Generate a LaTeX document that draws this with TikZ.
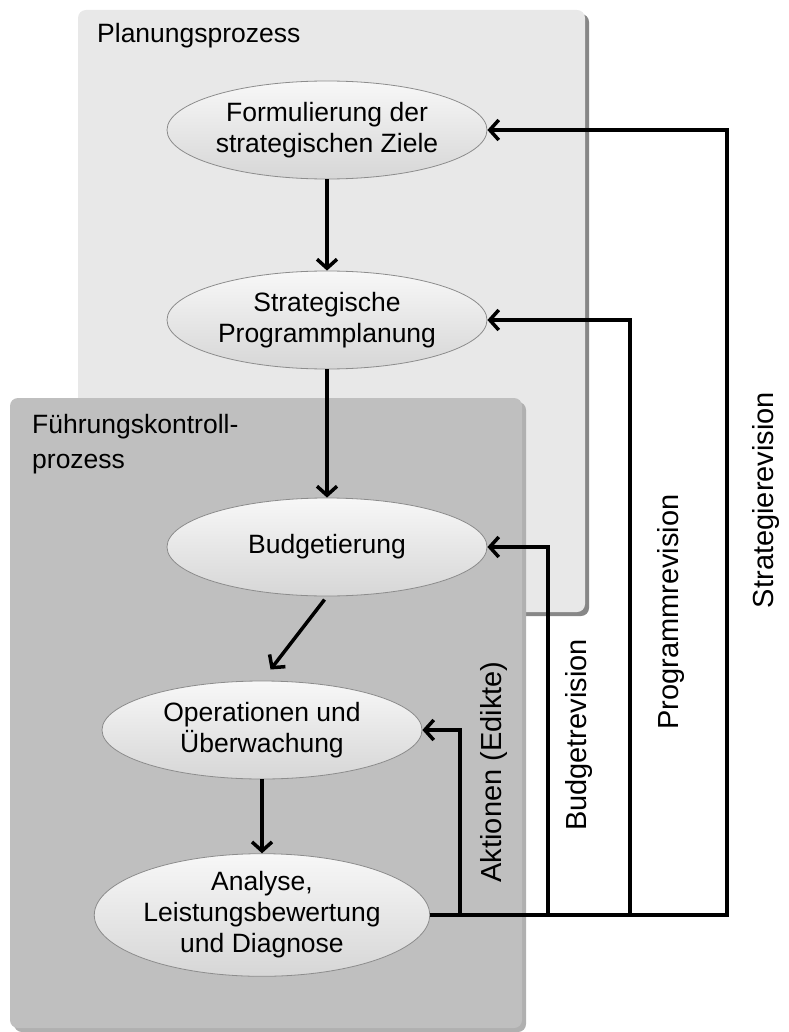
\documentclass[tikz,border=0pt]{standalone}
\usepackage{fontspec}
\setmainfont{Liberation Sans}
\usetikzlibrary{arrows.meta,shapes.geometric}
\begin{document}
\begin{tikzpicture}[x=1pt,y=-1pt,
  txt/.style={font=\fontsize{26.5}{31}\selectfont},
  sidetxt/.style={font=\fontsize{29}{31}\selectfont, inner sep=0pt, rotate=90},
  proc/.style={txt, ellipse, draw=black!45, line width=0.8pt,
    top color=black!3, bottom color=black!16,
    minimum width=320pt, minimum height=98pt, inner sep=0pt, align=center},
  lab/.style={txt, inner sep=0pt},
  flow/.style={line width=3.5pt, line join=miter,
    -{Straight Barb[length=9pt,width=20pt]}}]
\useasboundingbox (0,0) rectangle (788,1032);

% Planning process panel with drop shadow
\fill[black!47, rounded corners=8pt] (82,14) rectangle (589,616);
\fill[black!9, rounded corners=8pt] (78,10) rectangle (585,612);
\node[lab, anchor=base west] (plan) at (97,43) {Planungsprozess};

% Management control panel with drop shadow
\fill[black!31, rounded corners=8pt] (14,402) rectangle (526,1032);
\fill[black!25, rounded corners=8pt] (10,398) rectangle (522,1028);
\node[lab, anchor=base west, align=left, font=\fontsize{26.5}{35}\selectfont]
  (fkp) at (32,468) {Führungskontroll-\\prozess};

% Process steps
\node[proc] (ziele)  at (327,130) {Formulierung der\\strategischen Ziele};
\node[proc] (prog)   at (327,320) {Strategische\\Programmplanung};
\node[proc] (budget) at (327,547) {Budgetierung};
\node[proc] (oper)   at (262,730) {Operationen und\\Überwachung};
\node[proc, minimum height=104pt] (anal) at (262,915)
  {Analyse,\\Leistungsbewertung\\und Diagnose};

% Main flow
\draw[flow] (ziele.south) -- (prog.north);
\draw[flow] (prog.south) -- (budget.north);
\draw[flow, shorten <=4pt, shorten >=14pt] (budget.south) -- (oper.north);
\draw[flow] (oper.south) -- (anal.north);

% Feedback loops
\coordinate (t1) at (460,915);
\coordinate (t2) at (548,915);
\coordinate (t3) at (630,915);
\coordinate (t4) at (727,915);
\draw[flow] (anal.east) -- (t4) |- (ziele.east);
\draw[flow] (t1) |- (oper.east);
\draw[flow] (t2) |- (budget.east);
\draw[flow] (t3) |- (prog.east);

% Loop labels
\node[sidetxt] (akt)  at (494,772) {Aktionen (Edikte)};
\node[sidetxt] (brev) at (579,735) {Budgetrevision};
\node[sidetxt] (prev) at (671,612) {Programmrevision};
\node[sidetxt] (srev) at (766,500) {Strategierevision};
\end{tikzpicture}
\end{document}
